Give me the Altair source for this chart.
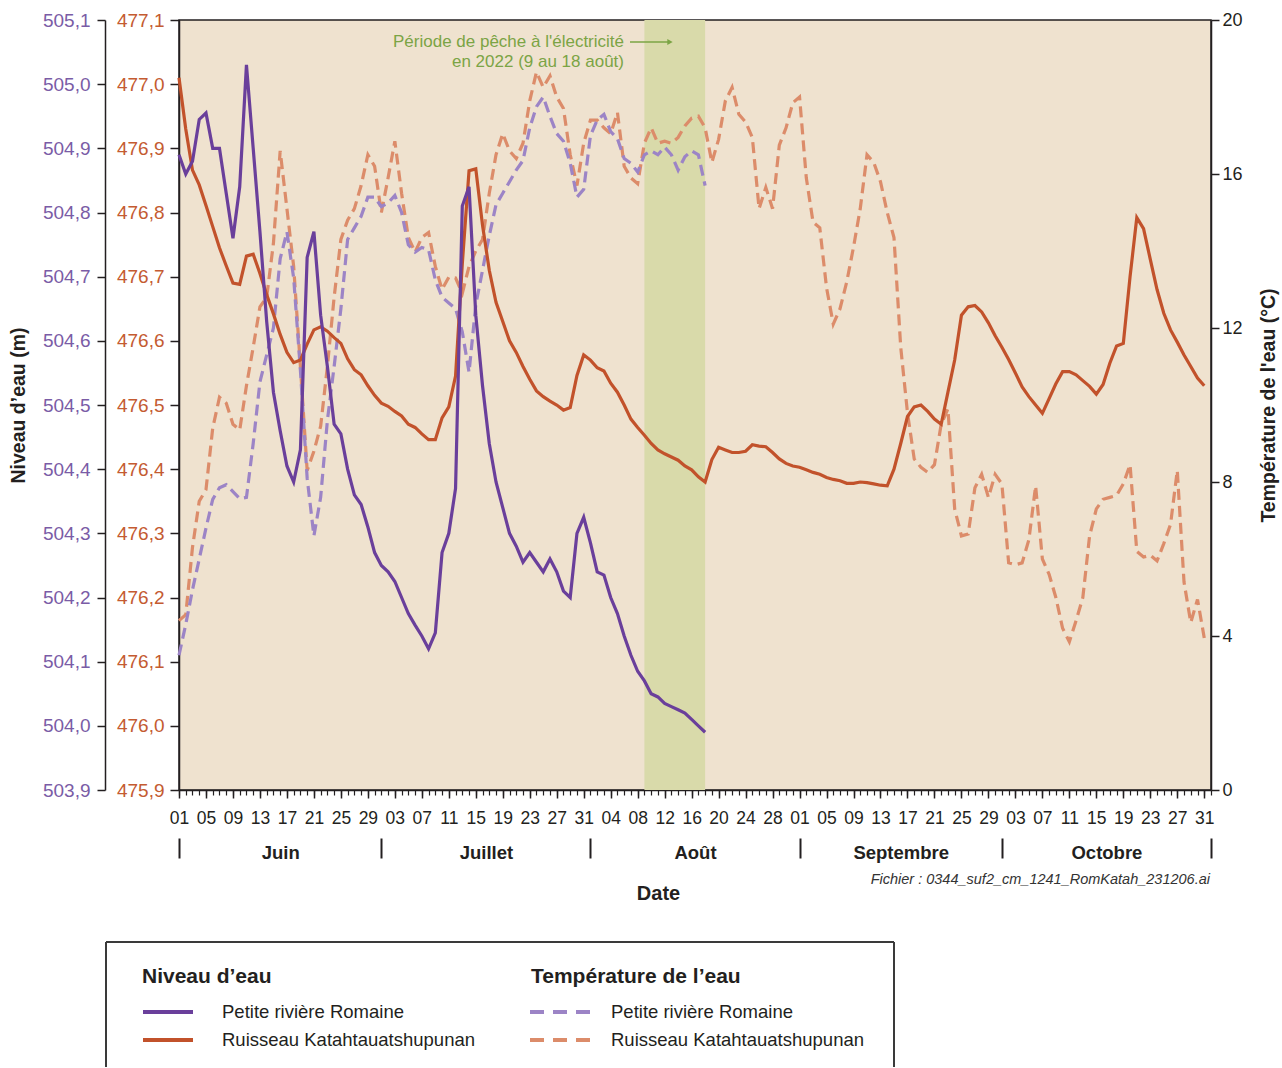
import altair as alt
import pandas as pd

# ---------------------------------------------------------------- data
START = "2022-06-01"          # first daily reading
AXIS_END = "2022-11-01"       # end of the time axis
FISHING = ("2022-08-09", "2022-08-18")   # electrofishing period
MONTHS = ["Juin", "Juillet", "Août", "Septembre", "Octobre"]
STATIONS = ["Petite rivière Romaine", "Ruisseau Katahtauatshupunan"]

# Daily water level (m), Petite rivière Romaine, 1 June -> 18 August
PRR_LEVEL = [
    504.89, 504.86, 504.88, 504.945, 504.955, 504.90, 504.90, 504.83, 504.76, 504.84,
    505.03, 504.90, 504.77, 504.63, 504.52, 504.46, 504.405, 504.38, 504.43, 504.73,
    504.77, 504.64, 504.56, 504.47, 504.455, 504.40, 504.36, 504.345, 504.31, 504.27,
    504.25, 504.24, 504.225, 504.20, 504.175, 504.157, 504.14, 504.12, 504.145, 504.27,
    504.30, 504.37, 504.81, 504.84, 504.64, 504.53, 504.44, 504.38, 504.34, 504.30,
    504.28, 504.255, 504.27, 504.255, 504.24, 504.26, 504.24, 504.21, 504.20, 504.30,
    504.325, 504.285, 504.24, 504.235, 504.20, 504.175, 504.14, 504.11, 504.085, 504.07,
    504.05, 504.045, 504.035, 504.03, 504.025, 504.02, 504.01, 504.00, 503.99,
]

# Daily water level (m), Ruisseau Katahtauatshupunan, 1 June -> 31 October
RK_LEVEL = [
    477.01, 476.93, 476.866, 476.843, 476.811, 476.778, 476.745, 476.717, 476.69, 476.688,
    476.732, 476.735, 476.705, 476.672, 476.642, 476.61, 476.582, 476.566, 476.57, 476.595,
    476.617, 476.622, 476.615, 476.605, 476.596, 476.572, 476.555, 476.547, 476.53, 476.515,
    476.503, 476.498, 476.49, 476.483, 476.47, 476.465, 476.455, 476.446, 476.446, 476.48,
    476.497, 476.545, 476.72, 476.865, 476.868, 476.78, 476.71, 476.66, 476.63, 476.60,
    476.582, 476.56, 476.54, 476.522, 476.513, 476.506, 476.50, 476.492, 476.496, 476.546,
    476.578, 476.57, 476.558, 476.553, 476.534, 476.52, 476.50, 476.478, 476.465, 476.453,
    476.44, 476.43, 476.424, 476.419, 476.414, 476.405, 476.399, 476.388, 476.38, 476.415,
    476.434, 476.43, 476.426, 476.426, 476.428, 476.438, 476.436, 476.435, 476.426, 476.416,
    476.409, 476.405, 476.403, 476.399, 476.395, 476.392, 476.387, 476.384, 476.382, 476.378,
    476.378, 476.38, 476.379, 476.377, 476.375, 476.374, 476.40, 476.44, 476.482, 476.497,
    476.50, 476.49, 476.478, 476.47, 476.52, 476.57, 476.64, 476.653, 476.655, 476.645,
    476.628, 476.608, 476.59, 476.571, 476.55, 476.528, 476.513, 476.50, 476.487, 476.51,
    476.533, 476.552, 476.552, 476.547, 476.538, 476.529, 476.517, 476.532, 476.565, 476.592,
    476.596, 476.70, 476.792, 476.775, 476.727, 476.68, 476.643, 476.617, 476.598, 476.578,
    476.56, 476.542, 476.53,
]

# Daily water temperature (°C), Petite rivière Romaine, 1 June -> 18 August
PRR_TEMP = [
    3.5, 4.3, 5.2, 6.0, 6.8, 7.55, 7.85, 7.93, 7.75, 7.57,
    7.6, 9.0, 10.6, 11.3, 12.0, 13.8, 14.5, 13.3, 10.9, 8.1,
    6.6, 7.6, 9.6, 11.0, 12.5, 14.3, 14.6, 14.9, 15.4, 15.4,
    15.15, 15.25, 15.44, 15.0, 14.16, 13.97, 14.09, 14.03, 13.25, 12.8,
    12.65, 12.5, 11.9, 10.85, 12.6, 13.5, 14.4, 15.2, 15.5, 15.8,
    16.1, 16.35, 17.2, 17.75, 18.0, 17.5, 17.05, 16.85, 16.28, 15.4,
    15.6, 17.0, 17.4, 17.55, 17.1, 16.92, 16.4, 16.28, 16.05, 16.5,
    16.6, 16.5, 16.7, 16.5, 16.1, 16.45, 16.6, 16.5, 15.7,
]

# Daily water temperature (°C), Ruisseau Katahtauatshupunan, 1 June -> 31 October
RK_TEMP = [
    4.4, 4.55, 6.3, 7.5, 7.8, 9.4, 10.2, 10.05, 9.5, 9.35,
    10.5, 11.5, 12.55, 12.8, 14.2, 16.6, 15.1, 13.6, 11.0, 8.3,
    8.8, 9.45, 11.0, 12.8, 14.3, 14.8, 15.1, 15.7, 16.5, 16.2,
    15.0, 15.9, 16.85, 15.5, 14.35, 13.97, 14.35, 14.48, 13.6, 13.0,
    13.32, 13.3, 12.9, 13.6, 14.0, 14.3, 15.5, 16.5, 17.05, 16.6,
    16.4, 16.8, 17.9, 18.65, 18.25, 18.55, 18.0, 17.7, 16.5, 15.7,
    16.8, 17.4, 17.4, 17.2, 17.05, 17.6, 16.2, 15.9, 15.75, 16.8,
    17.2, 16.8, 16.85, 16.8, 16.95, 17.25, 17.45, 17.5, 17.2, 16.3,
    16.9, 17.9, 18.25, 17.55, 17.35, 16.95, 15.1, 15.65, 15.1, 16.75,
    17.2, 17.85, 18.0, 15.9, 14.75, 14.6, 13.05, 12.1, 12.5, 13.2,
    14.1, 15.1, 16.5, 16.3, 15.8, 15.0, 14.35, 11.5, 9.8, 8.6,
    8.38, 8.25, 8.45, 9.5, 9.9, 7.3, 6.6, 6.65, 7.85, 8.2,
    7.6, 8.2, 7.95, 5.9, 5.85, 5.9, 6.5, 7.9, 6.0, 5.6,
    5.0, 4.2, 3.85, 4.4, 5.0, 6.6, 7.3, 7.55, 7.6, 7.65,
    7.95, 8.45, 6.2, 6.05, 6.1, 5.95, 6.4, 6.9, 8.3, 5.4,
    4.35, 4.95, 3.95,
]

PRR_LEVEL_TICKS = [503.9, 504.0, 504.1, 504.2, 504.3, 504.4, 504.5,
                   504.6, 504.7, 504.8, 504.9, 505.0, 505.1]
RK_LEVEL_TICKS = [475.9, 476.0, 476.1, 476.2, 476.3, 476.4, 476.5,
                  476.6, 476.7, 476.8, 476.9, 477.0, 477.1]
TEMP_TICKS = [0, 4, 8, 12, 16, 20]

# ---------------------------------------------------------------- style
FONT = "Liberation Sans"
INK = "#231f20"
BEIGE = "#EFE2CF"
SHADE = "#D9DAAA"
PURPLE = "#6A3F9B"
PURPLE_DASH = "#9C84C6"
PURPLE_TXT = "#7A5CA6"
ORANGE = "#C2522B"
ORANGE_DASH = "#DC8C6A"
ORANGE_TXT = "#C45B31"
GREEN = "#7BA445"
DASH = [11, 6]

W, H = 1032, 770
PAD = {"left": 179, "top": 20, "right": 69, "bottom": 277}

# ---------------------------------------------------------------- helpers
t0 = pd.Timestamp(START)
n_days = (pd.Timestamp(AXIS_END) - t0).days
month_starts = list((pd.date_range(START, AXIS_END, freq="MS") - t0).days)
month_mids = [(a + b) / 2 for a, b in zip(month_starts[:-1], month_starts[1:])]


def daily(values):
    dates = pd.date_range(START, periods=len(values), freq="D")
    return pd.DataFrame({"day": list((dates - t0).days), "value": values})


xs = alt.Scale(domain=[0, n_days], nice=False, zero=False)
comma = "replace(format(datum.value, '.1f'), '.', ',')"
day_label = f"timeFormat(datetime({t0.year}, {t0.month - 1}, {t0.day} + datum.value), '%d')"
month_label = "''"
for name, end in reversed(list(zip(MONTHS, month_starts[1:]))):
    month_label = f"datum.value < {end} ? '{name}' : {month_label}"

# bottom axes: daily ticks, labelled ticks, month separators, month names
ax_daily = alt.Axis(orient="bottom", values=list(range(0, n_days + 1)), labels=False,
                    tickSize=5, tickWidth=1.2, domain=True, title=None)
ax_days4 = alt.Axis(orient="bottom", values=list(range(0, n_days, 4)), labelExpr=day_label,
                    tickSize=8, labelFontSize=17.5, labelColor=INK, labelPadding=11,
                    domain=False, title=None)
ax_sep = alt.Axis(orient="bottom", values=month_starts, offset=48, tickSize=20, tickWidth=2,
                  labels=False, domain=False, title=None)
ax_months = alt.Axis(orient="bottom", values=month_mids, labelExpr=month_label, offset=48,
                     ticks=False, tickSize=0, domain=False, labelPadding=5,
                     labelFontSize=18.5, labelFontWeight="bold", labelColor=INK,
                     title="Date", titleFontSize=20, titleFontWeight="bold",
                     titleX=479, titleY=55, titleBaseline="middle", titleAlign="center")

# vertical axes
ax_prr = alt.Axis(orient="left", offset=74, values=PRR_LEVEL_TICKS, labelExpr=comma,
                  tickSize=8, labelPadding=7, labelFontSize=19, labelColor=PURPLE_TXT,
                  title="Niveau d’eau (m)", titleFontSize=19.5, titleFontWeight="bold",
                  titleAngle=270, titleX=-87, titleY=385, titleAlign="center",
                  titleBaseline="middle")
ax_rk = alt.Axis(orient="left", values=RK_LEVEL_TICKS, labelExpr=comma, tickSize=9,
                 labelPadding=6, labelFontSize=19, labelColor=ORANGE_TXT, title=None)
ax_temp = alt.Axis(orient="right", values=TEMP_TICKS, tickSize=8, labelPadding=3,
                   labelFontSize=18, labelColor=INK,
                   title="Température de l'eau (°C)", titleFontSize=19.5,
                   titleFontWeight="bold", titleAngle=270, titleX=57, titleY=385,
                   titleAlign="center", titleBaseline="middle")


def series(values, color, domain, x_axis, y_axis, dashed=False):
    kw = dict(color=color, strokeWidth=3.2, strokeJoin="miter")
    if dashed:
        kw.update(strokeDash=DASH, strokeCap="butt")
    return alt.Chart(daily(values)).mark_line(**kw).encode(
        x=alt.X("day:Q", scale=xs, axis=x_axis),
        y=alt.Y("value:Q", scale=alt.Scale(domain=domain, nice=False, zero=False),
                axis=y_axis),
    )


def text_at(s, x, y, **kw):
    return alt.Chart(pd.DataFrame({"label": [s]})).mark_text(**kw).encode(
        x=alt.value(x), y=alt.value(y), text="label:N")


def hline(x0, x1, y, **kw):
    return alt.Chart(pd.DataFrame({"k": [0]})).mark_rule(**kw).encode(
        x=alt.value(x0), x2=alt.value(x1), y=alt.value(y))


def vline(x, y0, y1, **kw):
    return alt.Chart(pd.DataFrame({"k": [0]})).mark_rule(**kw).encode(
        x=alt.value(x), y=alt.value(y0), y2=alt.value(y1))


# ---------------------------------------------------------------- layers
fish = pd.DataFrame({
    "start": [(pd.Timestamp(FISHING[0]) - t0).days],
    "end": [(pd.Timestamp(FISHING[1]) - t0).days],
})
band = alt.Chart(fish).mark_rect(color=SHADE).encode(
    x=alt.X("start:Q", scale=xs, axis=ax_daily), x2="end:Q")

level_dom_prr = [PRR_LEVEL_TICKS[0], PRR_LEVEL_TICKS[-1]]
level_dom_rk = [RK_LEVEL_TICKS[0], RK_LEVEL_TICKS[-1]]
temp_dom = [TEMP_TICKS[0], TEMP_TICKS[-1]]

rk_temp = series(RK_TEMP, ORANGE_DASH, temp_dom, None, ax_temp, dashed=True)
prr_temp = series(PRR_TEMP, PURPLE_DASH, temp_dom, ax_months, None, dashed=True)
rk_level = series(RK_LEVEL, ORANGE, level_dom_rk, ax_sep, ax_rk)
prr_level = series(PRR_LEVEL, PURPLE, level_dom_prr, ax_days4, ax_prr)

# annotation for the electrofishing period
note = [
    text_at("Période de pêche à l'électricité", 445, 22, align="right", baseline="middle",
            fontSize=17, color=GREEN),
    text_at("en 2022 (9 au 18 août)", 445, 42, align="right", baseline="middle",
            fontSize=17, color=GREEN),
    hline(451, 489, 22, color=GREEN, strokeWidth=1.3),
    alt.Chart(pd.DataFrame({"k": [0]})).mark_point(
        shape="triangle-right", filled=True, size=38, color=GREEN, opacity=1
    ).encode(x=alt.value(491), y=alt.value(22)),
    text_at("Fichier : 0344_suf2_cm_1241_RomKatah_231206.ai", 1031, 860, align="right",
            baseline="middle", fontSize=14.5, fontStyle="italic", color="#333333"),
]

# legend panel below the plot
box_l, box_r, box_t, box_b = -73, 715, 922, 1060
legend = [
    hline(box_l, box_r, box_t, color="#3a3a3a", strokeWidth=2),
    vline(box_l, box_t, box_b, color="#3a3a3a", strokeWidth=2),
    vline(box_r, box_t, box_b, color="#3a3a3a", strokeWidth=2),
    text_at("Niveau d’eau", -37, 957, align="left", baseline="middle", fontSize=21,
            fontWeight="bold", color=INK),
    text_at("Température de l’eau", 352, 957, align="left", baseline="middle", fontSize=21,
            fontWeight="bold", color=INK),
]
swatches = [
    (0, 0, PURPLE, False), (0, 1, ORANGE, False),
    (1, 0, PURPLE_DASH, True), (1, 1, ORANGE_DASH, True),
]
col_swatch = [(-36, 14), (351, 411)]
col_text = [43, 432]
row_y = [992, 1020]
for col, row, color, dashed in swatches:
    kw = dict(color=color, strokeWidth=4)
    if dashed:
        kw.update(strokeDash=[14, 9], strokeCap="butt")
    x0, x1 = col_swatch[col]
    legend.append(hline(x0, x1, row_y[row], **kw))
    legend.append(text_at(STATIONS[row], col_text[col], row_y[row], align="left",
                          baseline="middle", fontSize=18.5, color=INK))

chart = (
    alt.layer(band, rk_temp, prr_temp, rk_level, prr_level, *note, *legend)
    .resolve_scale(y="independent")
    .resolve_axis(x="independent", y="independent")
    .properties(width=W, height=H, padding=PAD, background="white",
                autosize=alt.AutoSizeParams(type="none"))
    .configure(font=FONT)
    .configure_view(fill=BEIGE, stroke=INK, strokeWidth=1.5)
    .configure_axis(grid=False, domainColor=INK, domainWidth=1.5, tickColor=INK,
                    tickWidth=1.5, labelFont=FONT, titleFont=FONT, titleColor=INK,
                    labelFlush=False, labelOverlap=False)
)

chart.save("out.html", embed_options={"renderer": "svg", "actions": False})
